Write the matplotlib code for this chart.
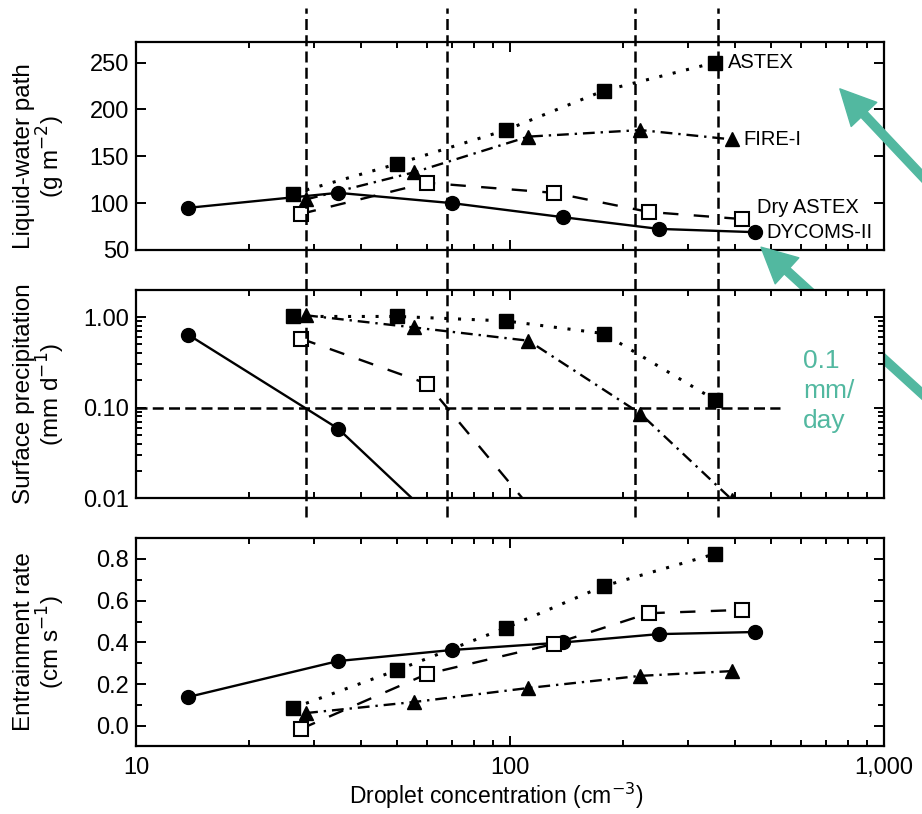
import matplotlib.pyplot as plt
import matplotlib.transforms as mtransforms
from matplotlib.lines import Line2D
from matplotlib.ticker import (FixedLocator, LogLocator, NullFormatter,
                               NullLocator, MultipleLocator, FormatStrFormatter)

plt.rcParams['font.family'] = ['Liberation Sans', 'DejaVu Sans']

# droplet concentration (cm^-3) of each case
astex_n = [26.3, 50, 97.5, 178, 353]
fire_n = [28.5, 55.5, 112, 223, 393]
dry_n = [27.6, 60, 131, 235, 417]
dycoms_n = [13.8, 34.7, 70, 138.6, 250, 452]

# liquid-water path (g m^-2)
astex_lwp = [110, 142, 178, 220, 250]
fire_lwp = [104, 133, 171, 178, 168]
dry_lwp = [88.5, 121.7, 111, 90.6, 83]
dycoms_lwp = [95, 111, 100, 85, 72.5, 69]

# surface precipitation (mm d^-1)
astex_precip = [1.02, 1.02, 0.91, 0.66, 0.122]
fire_precip = [1.05, 0.77, 0.55, 0.086, 0.0095]
dry_precip = [0.58, 0.184, 0.0038, 0.0005, 0.0001]
dycoms_precip = [0.64, 0.0586, 0.0038, 0.0005, 0.0001, 0.00005]

# entrainment rate (cm s^-1)
astex_we = [0.086, 0.268, 0.47, 0.67, 0.824]
fire_we = [0.062, 0.115, 0.182, 0.24, 0.263]
dry_we = [-0.014, 0.249, 0.393, 0.54, 0.556]
dycoms_we = [0.139, 0.311, 0.364, 0.40, 0.44, 0.45]

# concentrations where precipitation drops to 0.1 mm/day
threshold_n = [28.5, 68, 216, 360]
threshold_precip = 0.1

teal = '#52b8a0'

fig = plt.figure(figsize=(9.22, 8.14), dpi=100)
left, width, height = 0.1475, 0.8113, 0.2555
ax1 = fig.add_axes([left, 0.6929, width, height])
ax2 = fig.add_axes([left, 0.3882, width, height])
ax3 = fig.add_axes([left, 0.0835, width, height])


def draw_cases(ax, astex, fire, dry, dycoms):
    ax.plot(dycoms_n, dycoms, color='black', lw=1.7, marker='o', ms=10, zorder=3)
    ax.plot(astex_n, astex, color='black', lw=2.2, dashes=(1, 3.5), marker='s',
            ms=10.5, zorder=3)
    ax.plot(fire_n, fire, color='black', lw=1.7, dashes=(5, 2.5, 1, 2.5), marker='^',
            ms=10, zorder=3)
    ax.plot(dry_n, dry, color='black', lw=1.7, dashes=(6.5, 6.5), marker='s', ms=10,
            mfc='white', mec='black', mew=1.5, zorder=4)


draw_cases(ax1, astex_lwp, fire_lwp, dry_lwp, dycoms_lwp)
draw_cases(ax2, astex_precip, fire_precip, dry_precip, dycoms_precip)
draw_cases(ax3, astex_we, fire_we, dry_we, dycoms_we)

for ax in (ax1, ax2, ax3):
    ax.set_xscale('log')
    ax.set_xlim(10, 1000)
    ax.xaxis.set_major_locator(FixedLocator([10, 100, 1000]))
    ax.xaxis.set_minor_locator(LogLocator(base=10, subs=range(2, 10)))
    ax.xaxis.set_minor_formatter(NullFormatter())
    ax.tick_params(which='both', direction='in', top=True, right=True,
                   labelsize=17, width=1.4, pad=5)
    ax.tick_params(which='major', length=7)
    ax.tick_params(which='minor', length=4)
    for sp in ax.spines.values():
        sp.set_linewidth(1.6)

ax1.tick_params(labelbottom=False)
ax2.tick_params(labelbottom=False)

# liquid-water path panel
ax1.set_ylim(50, 272)
ax1.set_yticks([50, 100, 150, 200, 250])
ax1.yaxis.set_minor_locator(NullLocator())
ax1.set_ylabel('Liquid-water path\n(g m$^{-2}$)', fontsize=17.5, linespacing=1.0)
ax1.yaxis.set_label_coords(-0.092, 0.45)
ax1.text(383, 250, 'ASTEX', fontsize=14.5, va='center', ha='left')
ax1.text(420, 168, 'FIRE-I', fontsize=14.5, va='center', ha='left')
ax1.text(457, 95, 'Dry ASTEX', fontsize=14.5, va='center', ha='left')
ax1.text(486, 69, 'DYCOMS-II', fontsize=14.5, va='center', ha='left')

# precipitation panel
ax2.set_yscale('log')
ax2.set_ylim(0.01, 2)
ax2.yaxis.set_major_locator(FixedLocator([0.01, 0.1, 1]))
ax2.yaxis.set_major_formatter(FormatStrFormatter('%.2f'))
ax2.yaxis.set_minor_locator(LogLocator(base=10, subs=range(2, 10)))
ax2.yaxis.set_minor_formatter(NullFormatter())
ax2.set_ylabel('Surface precipitation\n(mm d$^{-1}$)', fontsize=17.5, linespacing=1.0)
ax2.yaxis.set_label_coords(-0.092, 0.5)
ax2.plot([10, 527], [threshold_precip, threshold_precip], color='black', lw=1.8,
         dashes=(4.4, 2.1), zorder=2)

# entrainment panel
ax3.set_ylim(-0.096, 0.9)
ax3.yaxis.set_major_locator(FixedLocator([0.0, 0.2, 0.4, 0.6, 0.8]))
ax3.yaxis.set_major_formatter(FormatStrFormatter('%.1f'))
ax3.yaxis.set_minor_locator(MultipleLocator(0.1))
ax3.xaxis.set_major_formatter(plt.FuncFormatter(lambda v, p: f'{int(round(v)):,}'))
ax3.tick_params(axis='x', which='major', pad=8)
ax3.set_ylabel('Entrainment rate\n(cm s$^{-1}$)', fontsize=17.5, linespacing=1.0)
ax3.yaxis.set_label_coords(-0.092, 0.5)
ax3.set_xlabel('Droplet concentration (cm$^{-3}$)', fontsize=16.5)
ax3.xaxis.set_label_coords(0.481, -0.165)

# vertical guides through the two upper panels
trans = mtransforms.blended_transform_factory(ax1.transData, fig.transFigure)
for n in threshold_n:
    fig.add_artist(Line2D([n, n], [0.365, 0.99], transform=trans, color='black',
                          lw=1.8, dashes=(4.4, 2.1)))

# teal annotations
arrow = dict(arrowstyle='simple,head_length=1.1,head_width=1.1,tail_width=0.26',
             color=teal, mutation_scale=23, shrinkA=0, shrinkB=0)
ax1.annotate('', xy=(762, 222), xycoords='data', xytext=(1.014, 0.767),
             textcoords='figure fraction', arrowprops=arrow, annotation_clip=False)
ax1.annotate('', xy=(469, 53), xycoords='data', xytext=(1.014, 0.502),
             textcoords='figure fraction', arrowprops=arrow, annotation_clip=False)
fig.text(0.871, 0.571, '0.1\nmm/\nday', fontsize=19, color=teal, va='top', ha='left',
         linespacing=1.3)

fig.savefig('out.png', dpi=100)
